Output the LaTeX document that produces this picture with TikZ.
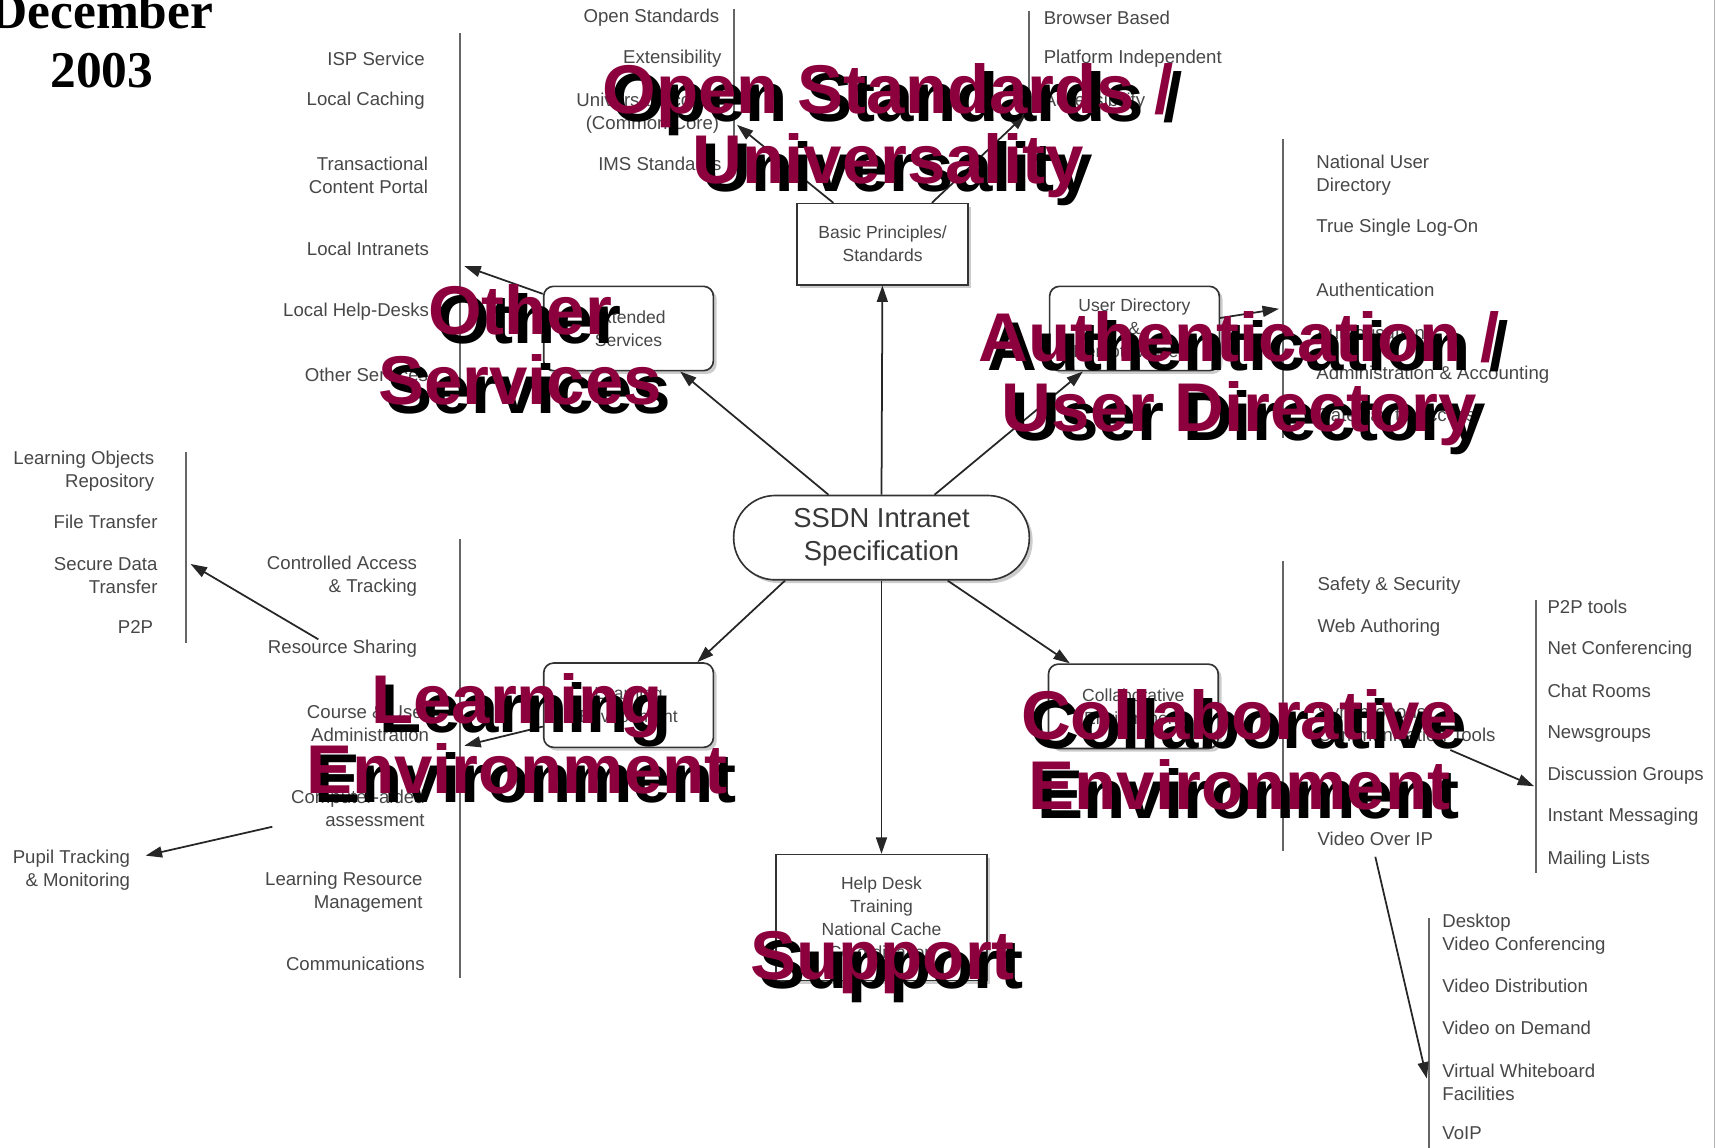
\documentclass[tikz,border=0pt]{standalone}
\usepackage{fontspec}
\setmainfont{Liberation Sans}
\newfontfamily\datefont{Liberation Serif}
\usetikzlibrary{arrows.meta,shadows}
\definecolor{tagred}{RGB}{140,0,62}
% big two-tone heading: black copy underneath, red copy on top
\newcommand{\bigtag}[3]{%
  \node[tagtext,text=black,xshift=8pt,yshift=-8pt] at #2 {#3};
  \node[tagtext,text=tagred] (#1) at #2 {#3};}

\begin{document}
\begin{tikzpicture}[x=1pt,y=-1pt]
        \tikzstyle{every node}+=[inner sep=0pt]
        \tikzstyle{listitem}=[font=\fontsize{17}{21}\selectfont,text=black!72]
        \tikzstyle{itemr}=[listitem,anchor=east,align=right]
        \tikzstyle{iteml}=[listitem,anchor=west,align=left]
        \tikzstyle{boxed}=[draw=black!80,line width=1.5pt,fill=white,
          drop shadow={shadow xshift=3pt,shadow yshift=-3pt,opacity=0.4},
          font=\fontsize{16}{21}\selectfont,text=black!72,align=center]
        \tikzstyle{rbox}=[boxed,rounded corners=9pt,minimum width=155pt,minimum height=77pt]
        \tikzstyle{stem}=[black!60,line width=1.8pt]
        \tikzstyle{arr}=[black!85,line width=1.6pt,-{Triangle[length=15pt,width=10pt]}]
        \tikzstyle{tagtext}=[font=\fontsize{63}{64}\selectfont\bfseries,align=center]
        \useasboundingbox (0,0) rectangle (1568,1048);
        \draw [black!30,line width=1pt] (1566,0) -- (1566,1048);

        \node[font=\datefont\bfseries\fontsize{47}{54}\selectfont,align=center] (date) at (93,37) {December\\2003};

        % centre and the six boxes
        \node[boxed,rounded corners=38pt,minimum width=270pt,minimum height=77pt,
          font=\fontsize{25}{30}\selectfont,text=black!78] (spec) at (805,491) {SSDN Intranet\\Specification};
        \node[boxed,minimum width=156pt,minimum height=74pt] (basic) at (806,223) {Basic Principles/\\Standards};
        \node[rbox] (ext) at (574,300) {Extended\\Services};
        \node[rbox] (udir) at (1036,300) {User Directory\\\&\\Remote Access};
        \node[rbox] (learn) at (574,644) {Learning\\Environment};
        \node[rbox] (collab) at (1035,645) {Collaborative\\Environment};
        \node[boxed,minimum width=193pt,minimum height=115pt] (support) at (805,838) {Help Desk\\Training\\National Cache\\Co-ordination};

        \draw [arr] (spec.north) -- (basic);
        \draw [arr] (spec.141) -- (ext);
        \draw [arr] (spec.39) -- (udir);
        \draw [arr] (spec.204) -- (learn.32);
        \draw [arr] (spec.327) -- (collab);
        \draw [arr] (spec.south) -- (support);

        % open standards
        \draw [stem] (670,8) -- (670,160);
        \coordinate (osHit) at (673,114);
        \node[itemr] (os1) at (657,16) {Open Standards};
        \node[itemr] (os2) at (659,54) {Extensibility};
        \node[itemr] (os3) at (657,103) {Universal Access\\(Common Core)};
        \node[itemr] (os4) at (659,150) {IMS Standards};
        \draw [arr] (basic.140) -- (osHit);

        \draw [stem] (940,10) -- (940,110);
        \coordinate (brHit) at (937,104);
        \node[iteml] (br1) at (953,16) {Browser Based};
        \node[iteml] (br2) at (953,54) {Platform Independent};
        \node[iteml] (br3) at (953,93) {Accessibility};
        \draw [arr] (basic.40) -- (brHit);

        % other services
        \draw [stem] (420,30) -- (420,350);
        \coordinate (otherHit) at (424,243);
        \node[itemr] (ot1) at (388,54) {ISP Service};
        \node[itemr] (ot2) at (388,92) {Local Caching};
        \node[itemr] (ot3) at (391,160) {Transactional\\Content Portal};
        \node[itemr] (ot4) at (392,227) {Local Intranets};
        \node[itemr] (ot5) at (392,285) {Local Help-Desks};
        \node[itemr] (ot6) at (391,342) {Other Services};
        \draw [arr] (ext.158) -- (otherHit);

        % user directory
        \draw [stem] (1172,127) -- (1172,400);
        \coordinate (authHit) at (1168,282);
        \node[iteml] (au1) at (1202,160) {National User\\Directory};
        \node[iteml] (au2) at (1202,208) {True Single Log-On};
        \node[iteml] (au3) at (1202,265) {Authentication};
        \node[iteml] (au4) at (1202,304) {Authorisation};
        \node[iteml] (au5) at (1202,342) {Administration \& Accounting};
        \node[iteml] (au6) at (1202,381) {Gateway to Access};
        \draw [arr] (udir.7) -- (authHit);

        % learning environment
        \draw [stem] (420,492) -- (420,893);
        \coordinate (learnHit) at (424,681);
        \node[itemr] (le1) at (381,526) {Controlled Access\\\& Tracking};
        \node[itemr] (rshare) at (381,592) {Resource Sharing};
        \node[itemr] (le3) at (392,661) {Course \& User\\Administration};
        \node[itemr] (cad) at (388,738) {Computer-aided\\assessment};
        \node[itemr] (le5) at (386,815) {Learning Resource\\Management};
        \node[itemr] (le6) at (388,880) {Communications};
        \draw [arr] (learn.194) -- (learnHit);

        \draw [stem] (170,413) -- (170,587);
        \coordinate (objHit) at (174,515);
        \node[itemr] (ob1) at (141,430) {Learning Objects\\Repository};
        \node[itemr] (ob2) at (144,477) {File Transfer};
        \node[itemr] (ob3) at (144,526) {Secure Data\\Transfer};
        \node[itemr] (ob4) at (140,573) {P2P};
        \draw [arr] ([xshift=-22pt]rshare.north) -- (objHit);

        \node[itemr] (pupil) at (119,795) {Pupil Tracking\\\& Monitoring};
        \draw [arr] ([xshift=-17pt,yshift=-17pt]cad.west) -- ([xshift=14pt,yshift=-5pt]pupil.north east);

        % collaborative environment
        \draw [stem] (1172,512) -- (1172,777);
        \node[iteml] (co1) at (1203,535) {Safety \& Security};
        \node[iteml] (co2) at (1203,573) {Web Authoring};
        \node[iteml] (ct) at (1203,661) {Synchronous\\Communication Tools};
        \node[iteml] (vip) at (1203,766) {Video Over IP};

        \draw [stem] (1403,548) -- (1403,797);
        \coordinate (p2pHit) at (1401,718);
        \node[iteml] (pp1) at (1413,554) {P2P tools};
        \node[iteml] (pp2) at (1413,593) {Net Conferencing};
        \node[iteml] (pp3) at (1413,631) {Chat Rooms};
        \node[iteml] (pp4) at (1413,670) {Newsgroups};
        \node[iteml] (pp5) at (1413,708) {Discussion Groups};
        \node[iteml] (pp6) at (1413,746) {Instant Messaging};
        \node[iteml] (pp7) at (1413,785) {Mailing Lists};
        \draw [arr] ([xshift=40pt,yshift=-7pt]ct.south) -- (p2pHit);

        \draw [stem] (1305,838) -- (1305,1048);
        \coordinate (deskHit) at (1303,985);
        \node[iteml] (dv1) at (1317,853) {Desktop\\Video Conferencing};
        \node[iteml] (dv2) at (1317,900) {Video Distribution};
        \node[iteml] (dv3) at (1317,939) {Video on Demand};
        \node[iteml] (dv4) at (1317,988) {Virtual Whiteboard\\Facilities};
        \node[iteml] (dv5) at (1317,1035) {VoIP};
        \draw [arr] ([yshift=-10pt]vip.south) -- (deskHit);

        % headings over everything
        \bigtag{tOpen}{(811,119)}{Open Standards /\\Universality}
        \bigtag{tOther}{(475,315)}{Other\\Services}
        \bigtag{tAuth}{(1132,346)}{Authentication /\\User Directory}
        \bigtag{tLearn}{(472,670)}{Learning\\Environment}
        \bigtag{tCollab}{(1132,685)}{Collaborative\\Environment}
        \bigtag{tSupport}{(806,879)}{Support}
      \end{tikzpicture}
\end{document}
